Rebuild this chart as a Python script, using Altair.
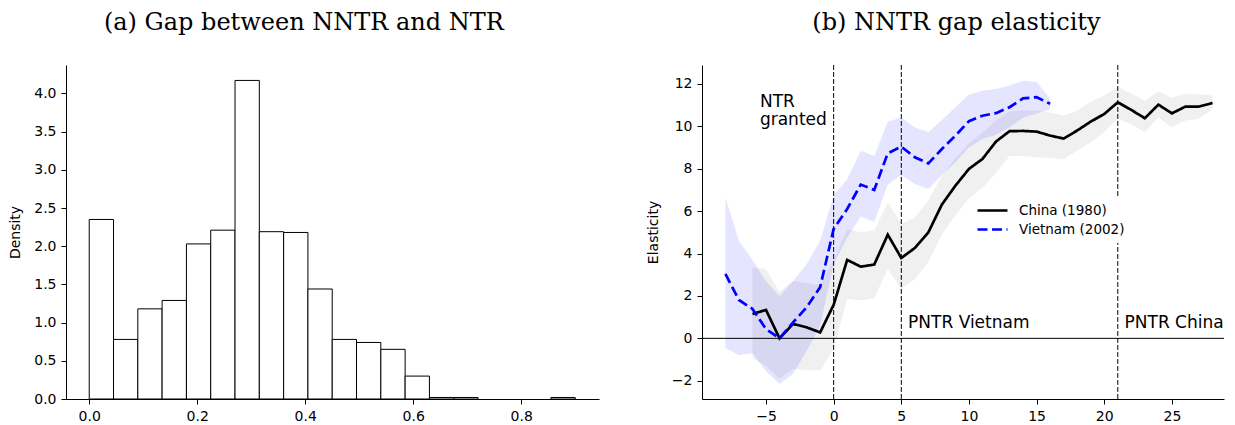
import altair as alt
import pandas as pd

# ---------------- Panel (a): histogram of the NNTR - NTR gap ----------------
bin_left = [0.0, 0.045, 0.09, 0.135, 0.18, 0.225, 0.27, 0.315, 0.36, 0.405,
            0.45, 0.495, 0.54, 0.585, 0.63, 0.675, 0.72, 0.765, 0.81, 0.855]
bin_right = [0.045, 0.09, 0.135, 0.18, 0.225, 0.27, 0.315, 0.36, 0.405, 0.45,
             0.495, 0.54, 0.585, 0.63, 0.675, 0.72, 0.765, 0.81, 0.855, 0.9]
density = [2.35, 0.78, 1.18, 1.29, 2.03, 2.21, 4.17, 2.19, 2.18, 1.44,
           0.78, 0.74, 0.65, 0.30, 0.02, 0.02, 0.0, 0.0, 0.0, 0.02]

# ---------------- Panel (b): NNTR gap elasticity ----------------
china_t = [-6, -5, -4, -3, -2, -1, 0, 1, 2, 3, 4, 5, 6, 7, 8, 9, 10, 11, 12, 13,
           14, 15, 16, 17, 18, 19, 20, 21, 22, 23, 24, 25, 26, 27, 28]
china_est = [1.15, 1.34, 0.0, 0.68, 0.52, 0.28, 1.58, 3.70, 3.38, 3.48, 4.89, 3.79,
             4.26, 5.00, 6.31, 7.20, 7.99, 8.46, 9.28, 9.77, 9.78, 9.75, 9.56, 9.42,
             9.80, 10.22, 10.58, 11.13, 10.77, 10.38, 11.02, 10.61, 10.93, 10.93, 11.10]
china_lo = [-0.95, -1.30, -1.90, -1.45, -1.50, -1.50, -0.50, 1.86, 1.78, 1.90, 3.27, 2.33,
            2.80, 3.60, 4.90, 5.80, 6.60, 7.10, 7.80, 8.60, 8.60, 8.54, 8.50, 8.45,
            8.85, 9.25, 9.72, 10.35, 10.10, 9.72, 10.42, 9.95, 10.27, 10.35, 10.80]
china_hi = [3.35, 3.25, 2.20, 2.70, 2.60, 2.50, 3.70, 5.16, 5.00, 5.08, 6.40, 5.40,
            5.70, 6.50, 7.67, 8.50, 9.20, 9.70, 10.27, 10.70, 10.75, 10.74, 10.65, 10.50,
            10.75, 11.15, 11.45, 11.87, 11.53, 11.20, 11.64, 11.34, 11.53, 11.50, 11.45]

viet_t = [-8, -7, -6, -5, -4, -3, -2, -1, 0, 1, 2, 3, 4, 5, 6, 7, 8, 9, 10, 11,
          12, 13, 14, 15, 16]
viet_est = [3.04, 1.81, 1.39, 0.44, 0.0, 0.75, 1.46, 2.41, 5.16, 6.10, 7.25, 7.00,
            8.73, 9.04, 8.54, 8.25, 8.93, 9.56, 10.24, 10.50, 10.62, 10.90, 11.32,
            11.37, 11.06]
viet_lo = [-0.45, -0.78, -0.70, -1.55, -2.15, -1.68, -0.60, 0.60, 3.50, 4.75, 5.75, 5.50,
           7.25, 7.70, 7.28, 7.04, 7.70, 8.30, 9.00, 9.40, 9.60, 9.95, 10.40, 10.60, 10.80]
viet_hi = [6.65, 4.60, 3.70, 2.70, 2.00, 2.70, 3.50, 4.60, 6.75, 7.50, 8.85, 8.60,
           10.22, 10.42, 9.95, 9.72, 10.30, 10.90, 11.50, 11.68, 11.76, 11.92, 12.15,
           12.10, 11.30]

series_names = ["China (1980)", "Vietnam (2002)"]
event_t = [0, 5, 21]
note_labels = ["NTR", "granted", "PNTR Vietnam", "PNTR China"]
note_t = [-5.45, -5.45, 5.5, 21.5]
note_y = [10.9, 10.05, 0.5, 0.5]

# ---------------- tables ----------------
hist_df = pd.DataFrame({"left": bin_left, "right": bin_right, "density": density})

est_df = pd.concat([
    pd.DataFrame({"series": series_names[0], "t": china_t, "est": china_est,
                  "lo": china_lo, "hi": china_hi}),
    pd.DataFrame({"series": series_names[1], "t": viet_t, "est": viet_est,
                  "lo": viet_lo, "hi": viet_hi}),
], ignore_index=True)
event_df = pd.DataFrame({"t": event_t})
zero_df = pd.DataFrame({"y": [0]})
note_df = pd.DataFrame({"label": note_labels, "t": note_t, "y": note_y})

# ---------------- panel (a) ----------------
hist = alt.Chart(hist_df).transform_filter("datum.density > 0").mark_bar(
    fill="white", stroke="black", strokeWidth=1
).encode(
    x=alt.X("left:Q",
            scale=alt.Scale(domain=[-0.043, 0.944], nice=False, zero=False),
            axis=alt.Axis(values=[0, 0.2, 0.4, 0.6, 0.8], format=".1f", title=None)),
    x2="right:Q",
    y=alt.Y("density:Q",
            scale=alt.Scale(domain=[0, 4.372], nice=False),
            axis=alt.Axis(values=[0, 0.5, 1.0, 1.5, 2.0, 2.5, 3.0, 3.5, 4.0],
                          format=".1f", title="Density", titlePadding=11)),
    y2=alt.datum(0),
).properties(
    width=533, height=334,
    title=alt.TitleParams("(a) Gap between NNTR and NTR", frame="bounds"),
)

# ---------------- panel (b) ----------------
xs = alt.Scale(domain=[-9.73, 28.85], nice=False, zero=False)
ys = alt.Scale(domain=[-2.86, 12.89], nice=False, zero=False)
x_axis = alt.Axis(values=[-5, 0, 5, 10, 15, 20, 25], format="d", title=None)
y_axis = alt.Axis(values=[-2, 0, 2, 4, 6, 8, 10, 12], format="d",
                  title="Elasticity", titlePadding=11)

band_china = alt.Chart(est_df).transform_filter(
    alt.datum.series == series_names[0]
).mark_area(color="gray", opacity=0.12).encode(
    x=alt.X("t:Q", scale=xs, axis=x_axis),
    y=alt.Y("lo:Q", scale=ys, axis=y_axis),
    y2="hi:Q",
)
band_viet = alt.Chart(est_df).transform_filter(
    alt.datum.series == series_names[1]
).mark_area(color="blue", opacity=0.1).encode(
    x=alt.X("t:Q", scale=xs),
    y=alt.Y("lo:Q", scale=ys),
    y2="hi:Q",
)

legend = alt.Legend(
    title=None, orient="none", legendX=906, legendY=132,
    labelFont="DejaVu Sans", labelFontSize=13.5, labelColor="black",
    symbolType="stroke", symbolSize=900, symbolStrokeWidth=2.7,
    fillColor="white", padding=4, labelOffset=10, rowPadding=0, clipHeight=19,
)

lines = alt.Chart(est_df).mark_line(strokeWidth=2.7).encode(
    x=alt.X("t:Q", scale=xs),
    y=alt.Y("est:Q", scale=ys),
    color=alt.Color("series:N",
                    scale=alt.Scale(domain=series_names, range=["black", "blue"]),
                    legend=legend),
    strokeDash=alt.StrokeDash("series:N",
                              scale=alt.Scale(domain=series_names,
                                              range=[[1, 0], [10, 4.5]]),
                              legend=legend),
)

events = alt.Chart(event_df).mark_rule(
    color="black", strokeWidth=1, strokeDash=[4.9, 2.1]
).encode(x=alt.X("t:Q", scale=xs))

zero_line = alt.Chart(zero_df).mark_rule(color="black", strokeWidth=1).encode(
    y=alt.Y("y:Q", scale=ys)
)

notes = alt.Chart(note_df).mark_text(
    align="left", baseline="alphabetic", font="DejaVu Sans", fontSize=17, color="black"
).encode(
    x=alt.X("t:Q", scale=xs),
    y=alt.Y("y:Q", scale=ys),
    text="label:N",
)

right = alt.layer(band_china, band_viet, zero_line, events, lines, notes).properties(
    width=522, height=334,
    title=alt.TitleParams("(b) NNTR gap elasticity", frame="bounds", dx=21),
)

chart = alt.hconcat(hist, right, spacing=45).properties(
    padding={"left": 0, "top": 2, "right": 0, "bottom": 0}
).configure_axis(
    labelFont="DejaVu Sans", labelFontSize=14, labelColor="black", labelPadding=5,
    tickColor="black", tickSize=5, tickWidth=1,
    domainColor="black", domainWidth=1, grid=False,
    titleFont="DejaVu Sans", titleFontSize=14, titleFontWeight="normal", titleColor="black",
).configure_view(
    stroke="transparent"
).configure_title(
    font="DejaVu Serif", fontSize=24, fontWeight="normal", color="black",
    anchor="middle", offset=30,
)

chart.save("out.html", embed_options={"renderer": "svg", "actions": False})
